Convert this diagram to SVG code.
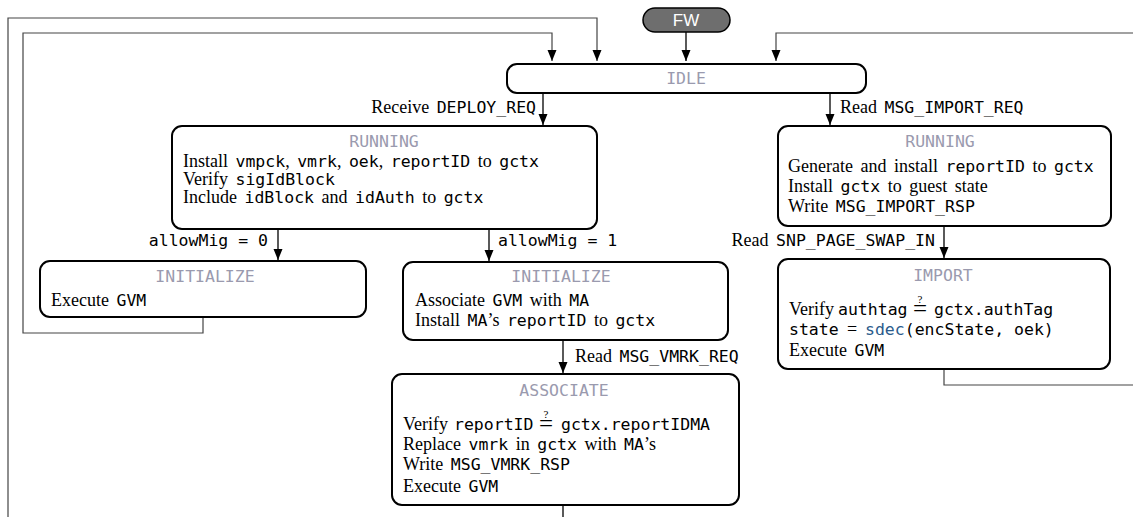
<svg xmlns="http://www.w3.org/2000/svg" width="1133" height="517" viewBox="0 0 1133 517">
<style>
.box{fill:#fff;stroke:#000;stroke-width:2}
.s{font-family:"Liberation Serif",serif;font-size:18px;fill:#000;word-spacing:3px}
.m{font-family:"DejaVu Sans Mono",monospace;font-size:16.5px;word-spacing:0}
.t{font-family:"DejaVu Sans Mono",monospace;font-size:16.5px;fill:#9a9aae;text-anchor:middle}
.q{font-family:"Liberation Serif",serif;font-size:11px}
.eq{font-family:"Liberation Serif",serif;font-size:25px}
.loop{fill:none;stroke:#444;stroke-width:1.2}
.arr{fill:none;stroke:#000;stroke-width:1.3}
</style>
<defs>
<marker id="ah" markerUnits="userSpaceOnUse" markerWidth="12" markerHeight="10" refX="11" refY="4.5" orient="auto">
<path d="M0,0 L11,4.5 L0,9 z" fill="#000"/>
</marker>
</defs>
<g id="connectors">
<path class="loop" d="M8,517 V18 H597 V61" marker-end="url(#ah)"/>
<path class="loop" d="M203,317 V333 H23 V33 H552 V61" marker-end="url(#ah)"/>
<path class="loop" d="M944,369 V385 H1140"/>
<path class="loop" d="M1140,33 H776 V61" marker-end="url(#ah)"/>
<path class="arr" d="M686,32 V61" marker-end="url(#ah)"/>
<path class="arr" d="M543,93 V125" marker-end="url(#ah)"/>
<path class="arr" d="M830,93 V125" marker-end="url(#ah)"/>
<path class="arr" d="M278,229 V260" marker-end="url(#ah)"/>
<path class="arr" d="M489,229 V261" marker-end="url(#ah)"/>
<path class="arr" d="M944,226 V258" marker-end="url(#ah)"/>
<path class="arr" d="M563,340 V373" marker-end="url(#ah)"/>
<path class="arr" d="M563,505 V517"/>
<text class="s" x="536" y="113" text-anchor="end">Receive <tspan class="m">DEPLOY_REQ</tspan></text>
<text class="s" x="840" y="113">Read <tspan class="m">MSG_IMPORT_REQ</tspan></text>
<text class="s m" x="268" y="246" text-anchor="end">allowMig = 0</text>
<text class="s m" x="498" y="246">allowMig = 1</text>
<text class="s" x="935" y="246" text-anchor="end">Read <tspan class="m">SNP_PAGE_SWAP_IN</tspan></text>
<text class="s" x="575" y="362">Read <tspan class="m">MSG_VMRK_REQ</tspan></text>
</g>
<g id="fw">
<rect x="643" y="8" width="87" height="24" rx="12" fill="#6e6e6e" stroke="#000" stroke-width="1.5"/>
<text x="686" y="26" text-anchor="middle" font-family="Liberation Sans, sans-serif" font-size="17" fill="#fff">FW</text>
</g>
<g id="idle">
<rect class="box" x="507" y="64" width="359" height="29" rx="10"/>
<text class="t" x="686" y="84">IDLE</text>
</g>
<g id="running-deploy">
<rect class="box" x="172" y="126" width="425" height="103" rx="10"/>
<text class="t" x="384" y="147">RUNNING</text>
<text class="s" x="183" y="167">Install <tspan class="m">vmpck</tspan>, <tspan class="m">vmrk</tspan>, <tspan class="m">oek</tspan>, <tspan class="m">reportID</tspan> to <tspan class="m">gctx</tspan></text>
<text class="s" x="183" y="185">Verify <tspan class="m">sigIdBlock</tspan></text>
<text class="s" x="183" y="203">Include <tspan class="m">idBlock</tspan> and <tspan class="m">idAuth</tspan> to <tspan class="m">gctx</tspan></text>
</g>
<g id="running-import">
<rect class="box" x="778" y="126" width="333" height="100" rx="10"/>
<text class="t" x="940" y="147">RUNNING</text>
<text class="s" x="788" y="172">Generate and install <tspan class="m">reportID</tspan> to <tspan class="m">gctx</tspan></text>
<text class="s" x="788" y="192">Install <tspan class="m">gctx</tspan> to guest state</text>
<text class="s" x="788" y="212">Write <tspan class="m">MSG_IMPORT_RSP</tspan></text>
</g>
<g id="initialize-0">
<rect class="box" x="40" y="261" width="326" height="56" rx="10"/>
<text class="t" x="205" y="282">INITIALIZE</text>
<text class="s" x="51" y="306">Execute <tspan class="m">GVM</tspan></text>
</g>
<g id="initialize-1">
<rect class="box" x="403" y="262" width="325" height="78" rx="10"/>
<text class="t" x="561" y="282">INITIALIZE</text>
<text class="s" x="415" y="306">Associate <tspan class="m">GVM</tspan> with <tspan class="m">MA</tspan></text>
<text class="s" x="415" y="326">Install <tspan class="m">MA</tspan>’s <tspan class="m">reportID</tspan> to <tspan class="m">gctx</tspan></text>
</g>
<g id="import">
<rect class="box" x="778" y="259" width="332" height="110" rx="10"/>
<text class="t" x="943" y="281">IMPORT</text>
<text class="s" x="789" y="315">Verify <tspan class="m" x="838">authtag</tspan><tspan class="eq" x="913" dy="2">=</tspan><tspan class="q" x="917.5" dy="-14">?</tspan><tspan class="m" x="934" dy="12">gctx.authTag</tspan></text>
<text class="s" x="789" y="335"><tspan class="m">state</tspan><tspan x="847">=</tspan><tspan class="m" x="865" fill="#2b5b8c">sdec</tspan><tspan class="m">(encState, oek)</tspan></text>
<text class="s" x="789" y="356">Execute <tspan class="m">GVM</tspan></text>
</g>
<g id="associate">
<rect class="box" x="392" y="374" width="347" height="131" rx="10"/>
<text class="t" x="564" y="396">ASSOCIATE</text>
<text class="s" x="403" y="430">Verify <tspan class="m" x="454">reportID</tspan><tspan class="eq" x="539" dy="2">=</tspan><tspan class="q" x="543.5" dy="-14">?</tspan><tspan class="m" x="561" dy="12">gctx.reportIDMA</tspan></text>
<text class="s" x="403" y="450">Replace <tspan class="m">vmrk</tspan> in <tspan class="m">gctx</tspan> with <tspan class="m">MA</tspan>’s</text>
<text class="s" x="403" y="470">Write <tspan class="m">MSG_VMRK_RSP</tspan></text>
<text class="s" x="403" y="492">Execute <tspan class="m">GVM</tspan></text>
</g>
</svg>
